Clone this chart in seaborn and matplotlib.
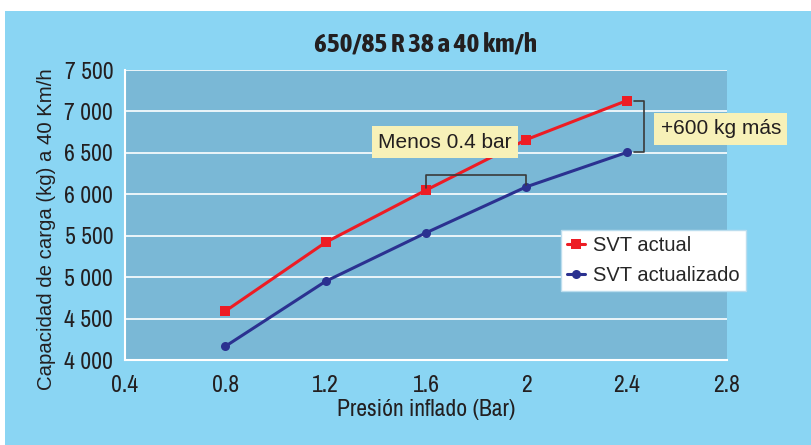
import matplotlib
matplotlib.use("Agg")
import matplotlib.pyplot as plt
import matplotlib.patches as mpatches
from matplotlib import font_manager
import seaborn as sns
import pandas as pd
from matplotlib.ticker import FuncFormatter, MultipleLocator

presion = [0.8, 1.2, 1.6, 2.0, 2.4]
svt_actual = [4590, 5420, 6050, 6660, 7130]
svt_actualizado = [4165, 4950, 5535, 6090, 6505]
series_names = ["SVT actual", "SVT actualizado"]

df = pd.DataFrame({
    "presion": presion * 2,
    "carga": svt_actual + svt_actualizado,
    "serie": [series_names[0]] * len(presion) + [series_names[1]] * len(presion),
})

# look for a condensed face (preferably one with a bold weight), otherwise fall back
fonts = font_manager.fontManager.ttflist
narrow_fonts = [f for f in fonts if "Narrow" in f.name or "Condensed" in f.name]
bold_narrow = sorted({f.name for f in narrow_fonts if f.weight in (600, 700, "bold", "semibold")})
any_narrow = sorted({f.name for f in narrow_fonts})
regular = ["Liberation Sans", "DejaVu Sans"]
narrow = any_narrow[:1] + regular
narrow_bold = (bold_narrow[:1] or any_narrow[:1]) + regular

sns.set_style("white")
plt.rcParams["font.family"] = narrow

fig = plt.figure(figsize=(8.12, 4.45), dpi=100)
fig.patch.set_facecolor("white")
fig.patches.append(mpatches.Rectangle((5 / 812, 0), 1, 434 / 445, transform=fig.transFigure,
                                      facecolor="#8AD5F3", edgecolor="none", zorder=-10))
ax = fig.add_axes([125 / 812, 85 / 445, 602 / 812, 290 / 445])
ax.set_facecolor("#7AB8D6")

sns.lineplot(data=df, x="presion", y="carga", hue="serie", style="serie",
             palette=["#ED1C24", "#2B3190"], markers=["s", "o"], dashes=False,
             markersize=6.5, linewidth=2.2, markeredgewidth=0, ax=ax)

ax.set_xlim(0.4, 2.8)
ax.set_ylim(4000, 7500)
ax.xaxis.set_major_locator(MultipleLocator(0.4))
ax.yaxis.set_major_locator(MultipleLocator(500))
ax.xaxis.set_major_formatter(FuncFormatter(lambda v, p: "2" if abs(v - 2) < 1e-6 else f"{v:.1f}"))
ax.yaxis.set_major_formatter(FuncFormatter(lambda v, p: f"{int(v):,}".replace(",", " ")))
ax.grid(axis="y", color="white", linewidth=1.2)
ax.set_axisbelow(True)
for s in ["top", "right"]:
    ax.spines[s].set_visible(False)
for s in ["left", "bottom"]:
    ax.spines[s].set_color("white")
    ax.spines[s].set_linewidth(1.5)
ax.tick_params(axis="both", colors="white", length=5, width=1.2, labelcolor="#231F20", labelsize=17)
ax.tick_params(axis="x", pad=6)

ax.set_xlabel("Presión inflado (Bar)", fontsize=17, color="#231F20", labelpad=2)
ax.set_ylabel("Capacidad de carga (kg) a 40 Km/h", fontsize=14.7, color="#231F20", family=regular)
ax.yaxis.set_label_coords(-0.115, 0.452)
ax.set_title("650/85 R 38 a 40 km/h", fontsize=19.5, fontweight="bold", color="#231F20", pad=13,
             family=narrow_bold)

leg = ax.legend(loc="upper right", bbox_to_anchor=(1.0316, 0.448), borderaxespad=0,
                frameon=True, fancybox=False,
                prop={"family": regular, "size": 14.5},
                handlelength=0.9, handletextpad=0.4, borderpad=0.3, labelspacing=0.55)
leg.get_frame().set_edgecolor("#BBDDEE")
leg.get_frame().set_facecolor("white")
leg.get_frame().set_alpha(1)

# bracket +600 kg
ax.plot([2.43, 2.47, 2.47, 2.43], [svt_actual[4], svt_actual[4], svt_actualizado[4], svt_actualizado[4]],
        color="#3A3A3A", linewidth=1.2, clip_on=False)
ax.text(2.535, 6790, "+600 kg más", fontsize=15, color="#231F20", va="center", ha="left",
        family=regular,
        bbox=dict(boxstyle="square,pad=0.3", facecolor="#F7F1B8", edgecolor="none"), clip_on=False)
# bracket menos 0.4 bar
ax.plot([1.6, 1.6, 2.0, 2.0], [svt_actual[2] + 20, 6230, 6230, svt_actualizado[3] + 20],
        color="#3A3A3A", linewidth=1.2)
ax.text(1.41, 6630, "Menos 0.4 bar", fontsize=15, color="#231F20", va="center", ha="left",
        family=regular,
        bbox=dict(boxstyle="square,pad=0.3", facecolor="#F7F1B8", edgecolor="none"))

fig.savefig("out.png", dpi=100)
